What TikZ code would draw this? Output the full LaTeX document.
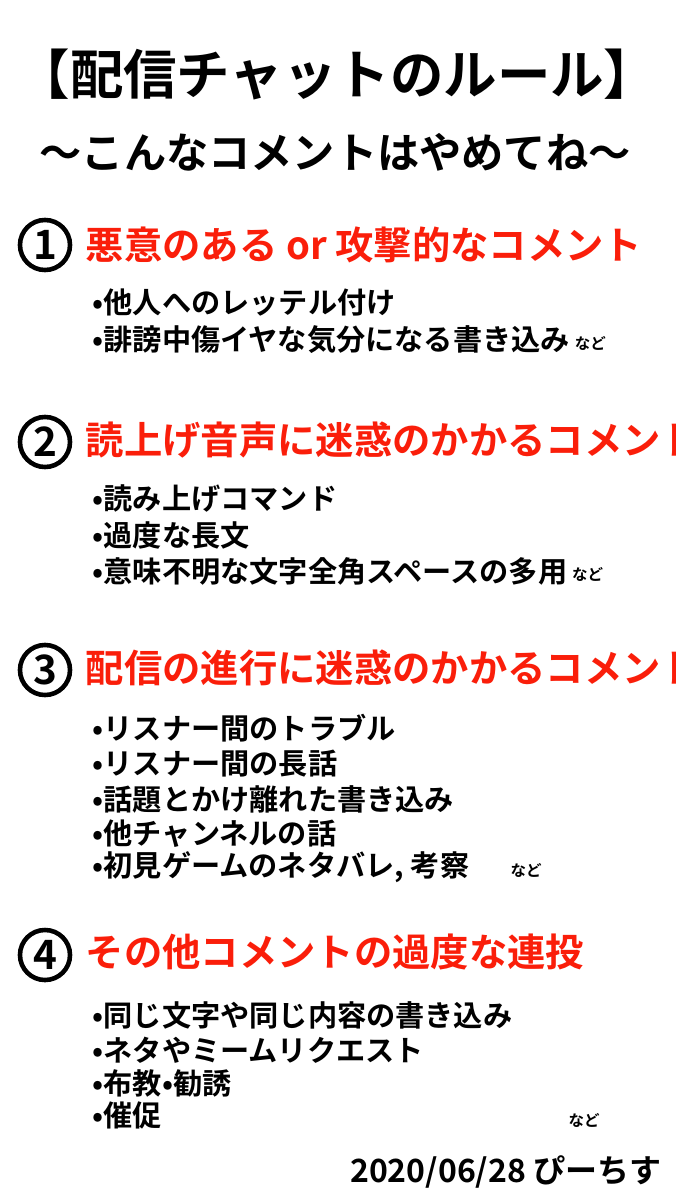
\documentclass[tikz,border=0pt]{standalone}
\usepackage{fontspec}
\setmainfont{Noto Sans CJK JP}[BoldFont={* Bold}]
\usetikzlibrary{positioning}
\definecolor{rulered}{RGB}{250,30,10}

\begin{document}
\begin{tikzpicture}[x=0.01cm,y=-0.01cm,
      title/.style={font=\bfseries\fontsize{15.2}{17}\selectfont},
      numcirc/.style={circle, draw, line width=1.3pt, minimum size=0.5cm, inner sep=0pt, font=\bfseries\fontsize{11.5}{12}\selectfont},
      head/.style={anchor=west, text=rulered, font=\bfseries\fontsize{10.9}{12}\selectfont, inner sep=0pt},
      item/.style={anchor=west, font=\bfseries\fontsize{8.3}{10}\selectfont, inner sep=0pt},
      etc/.style={anchor=west, font=\bfseries\fontsize{4.4}{5}\selectfont, inner sep=0pt}]
      \useasboundingbox[fill=white] (0,0) rectangle (675,1200);

      % Title
      \node[title] (title) at (337,75) {【配信チャットのルール】};
      \node[title, font=\bfseries\fontsize{12}{14}\selectfont] (sub) at (335,152) {〜こんなコメントはやめてね〜};

      % Section 1
      \node[numcirc] (n1) at (45,245) {1};
      \node[head] (h1) at (85,245) {悪意のある or 攻撃的なコメント};
      \node[item] (i11) at (92,303) {•他人へのレッテル付け};
      \node[item] (i12) at (92,340) {•誹謗中傷イヤな気分になる書き込み};
      \node[etc] at (i12.east) [xshift=1pt, yshift=-1pt] {など};

      % Section 2
      \node[numcirc] (n2) at (45,442) {2};
      \node[head] (h2) at (85,440) {読上げ音声に迷惑のかかるコメント};
      \node[item] (i21) at (92,498) {•読み上げコマンド};
      \node[item] (i22) at (92,535) {•過度な長文};
      \node[item] (i23) at (92,571) {•意味不明な文字全角スペースの多用};
      \node[etc] at (i23.east) [xshift=1pt, yshift=-1pt] {など};

      % Section 3
      \node[numcirc] (n3) at (45,670) {3};
      \node[head] (h3) at (85,668) {配信の進行に迷惑のかかるコメント};
      \node[item] (i31) at (92,728) {•リスナー間のトラブル};
      \node[item] (i32) at (92,764) {•リスナー間の長話};
      \node[item] (i33) at (92,799) {•話題とかけ離れた書き込み};
      \node[item] (i34) at (92,834) {•他チャンネルの話};
      \node[item] (i35) at (92,867) {•初見ゲームのネタバレ, 考察};
      \node[etc] at (510,870) {など};

      % Section 4
      \node[numcirc] (n4) at (45,955) {4};
      \node[head] (h4) at (85,952) {その他コメントの過度な連投};
      \node[item] (i41) at (92,1015) {•同じ文字や同じ内容の書き込み};
      \node[item] (i42) at (92,1050) {•ネタやミームリクエスト};
      \node[item] (i43) at (92,1083) {•布教•勧誘};
      \node[item] (i44) at (92,1115) {•催促};
      \node[etc] at (568,1120) {など};

      % Date
      \node[item, anchor=east, font=\bfseries\fontsize{9.1}{11}\selectfont] (date) at (662,1172) {2020/06/28 ぴーちす};
    \end{tikzpicture}
\end{document}
